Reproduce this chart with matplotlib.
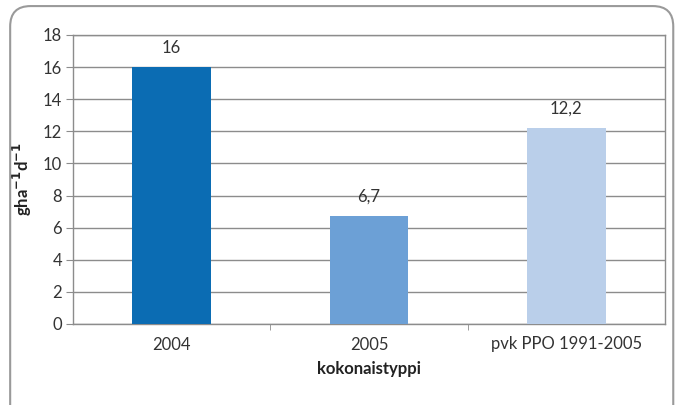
import matplotlib.pyplot as plt
from matplotlib.patches import FancyBboxPatch
import numpy as np

categories = ['2004', '2005', 'pvk PPO 1991-2005']
values = [16, 6.7, 12.2]
value_labels = ['16', '6,7', '12,2']
colors = ['#0b6cb3', '#6ca0d6', '#bacfea']

plt.rcParams['font.family'] = ['Lato', 'DejaVu Sans']

fig = plt.figure(figsize=(6.78, 4.05), dpi=100)

# rounded frame around the whole chart
frame = FancyBboxPatch((0.015, -0.05), 0.978, 1.035, boxstyle='round,pad=0,rounding_size=0.03',
                       transform=fig.transFigure, facecolor='none', edgecolor='#9a9a9a',
                       linewidth=1.5, mutation_aspect=678 / 405, zorder=0)
fig.patches.append(frame)

ax = fig.add_axes([0.1077, 0.2, 0.873, 0.7136])
ax.set_facecolor('white')
x = np.arange(len(categories))
ax.bar(x, values, width=0.4, color=colors, zorder=3)

for xi, v, lab in zip(x, values, value_labels):
    ax.annotate(lab, (xi, v), xytext=(0, 14), textcoords='offset points',
                ha='center', va='center', fontsize=12, color='#333333')

ax.set_xlim(-0.5, 2.5)
ax.set_ylim(0, 18)
ax.set_yticks(range(0, 19, 2))
ax.yaxis.grid(True, color='#8c8c8c', linewidth=1, zorder=0)

ax.set_xticks(x)
ax.set_xticklabels(categories, fontsize=12, color='#333333')
ax.set_xticks([0.5, 1.5], minor=True)
ax.tick_params(axis='x', which='major', length=0, pad=9)
ax.tick_params(axis='x', which='minor', length=4, color='#8c8c8c')
ax.tick_params(axis='y', length=5, color='#8c8c8c', labelsize=12, labelcolor='#333333', pad=3)

for s in ax.spines.values():
    s.set_color('#8c8c8c')
    s.set_linewidth(1)

ax.set_xlabel('kokonaistyppi', fontsize=12, fontweight='bold', color='#222222', labelpad=6)
ax.set_ylabel(r'gha$^{\mathbf{-1}}$d$^{\mathbf{-1}}$', fontsize=12, fontweight='bold',
              color='#222222', labelpad=6)

fig.savefig('out.png', dpi=100)
